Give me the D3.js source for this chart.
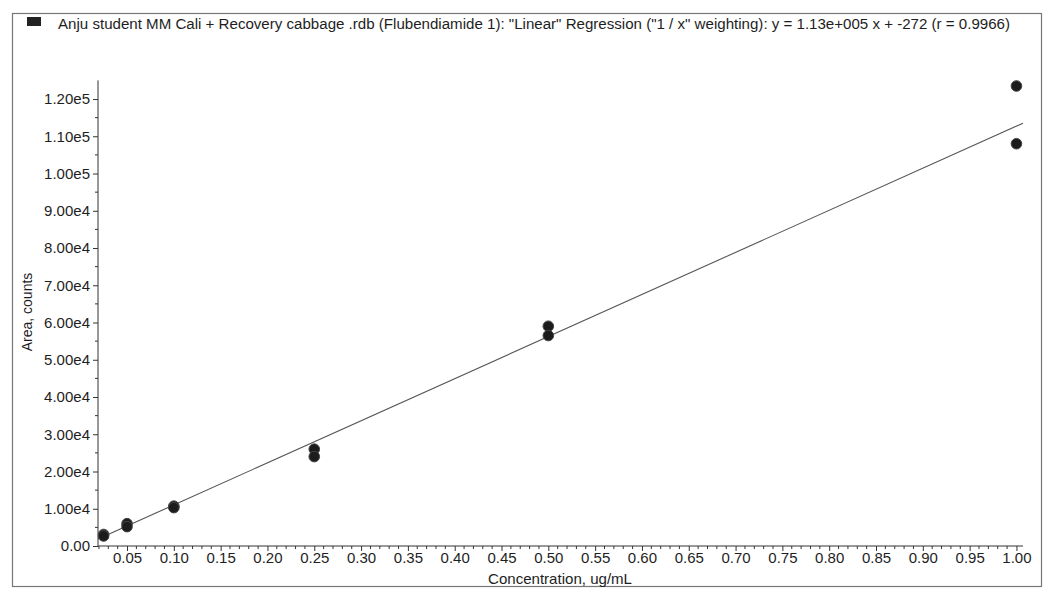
<!DOCTYPE html>
<html>
<head>
<meta charset="utf-8">
<script src="https://cdn.jsdelivr.net/npm/d3@7"></script>
<style>
  body { margin: 0; background: #fff; }
  text { font-family: "Liberation Sans", Arial, sans-serif; fill: #1e1e1e; }
</style>
</head>
<body>
<svg id="chart" width="1043" height="591"></svg>
<script>
// calibration standards (two injections per level)
const concentrations = [0.025, 0.025, 0.05, 0.05, 0.10, 0.10, 0.25, 0.25, 0.50, 0.50, 1.00, 1.00];
const areas = [3100, 2700, 6000, 5200, 10700, 10300, 26000, 24000, 59000, 56500, 123500, 108000];

// regression from the title: y = 1.13e+005 x + -272
const slope = 113000;
const intercept = -272;

const xTicks = [0.05, 0.10, 0.15, 0.20, 0.25, 0.30, 0.35, 0.40, 0.45, 0.50, 0.55, 0.60, 0.65, 0.70, 0.75, 0.80, 0.85, 0.90, 0.95, 1.00];
const yTicks = [0, 10000, 20000, 30000, 40000, 50000, 60000, 70000, 80000, 90000, 100000, 110000, 120000];

const titleText = 'Anju student MM Cali + Recovery cabbage .rdb (Flubendiamide 1): "Linear" Regression ("1 / x" weighting): y = 1.13e+005 x + -272 (r = 0.9966)';

const svg = d3.select("#chart");

const x = d3.scaleLinear().domain([0.019, 1.007]).range([98, 1023]);
const y = d3.scaleLinear().domain([0, 125000]).range([546, 80.4]);

// outer frame
svg.append("rect")
    .attr("x", 12.5).attr("y", 13.5)
    .attr("width", 1029).attr("height", 573)
    .attr("fill", "none")
    .attr("stroke", "#777")
    .attr("stroke-width", 1.2);

// legend swatch + title
svg.append("rect")
    .attr("x", 27).attr("y", 17)
    .attr("width", 14).attr("height", 9)
    .attr("fill", "#222");

svg.append("text")
    .attr("x", 58).attr("y", 29)
    .attr("font-size", 14)
    .attr("textLength", 952)
    .attr("lengthAdjust", "spacingAndGlyphs")
    .text(titleText);

// x axis
const xMinor = d3.range(2, 101).map(d => d / 100).filter(d => d >= 0.019 && Math.round(d * 100) % 5 !== 0);

const xAxis = svg.append("g").attr("transform", "translate(0,546)");
xAxis.append("line")
    .attr("x1", x.range()[0]).attr("x2", x.range()[1])
    .attr("stroke", "#333");
xAxis.selectAll(".minor")
    .data(xMinor)
    .join("line")
    .attr("x1", d => x(d)).attr("x2", d => x(d))
    .attr("y1", 0).attr("y2", 3)
    .attr("stroke", "#333");
xAxis.call(d3.axisBottom(x).tickValues(xTicks).tickFormat(d => d.toFixed(2)).tickSize(5).tickSizeOuter(0))
    .call(g => g.select(".domain").remove())
    .call(g => g.selectAll(".tick line").attr("stroke", "#333"))
    .call(g => g.selectAll(".tick text")
        .attr("font-family", '"Liberation Sans", Arial, sans-serif')
        .attr("font-size", 15)
        .attr("fill", "#1e1e1e")
        .attr("y", 5)
        .attr("dy", "0.8em"));

// y axis
const yMinor = d3.range(5000, 125000, 10000);

const yAxis = svg.append("g").attr("transform", "translate(98,0)");
yAxis.append("line")
    .attr("y1", y.range()[0]).attr("y2", y.range()[1])
    .attr("stroke", "#333");
yAxis.selectAll(".minor")
    .data(yMinor)
    .join("line")
    .attr("y1", d => y(d)).attr("y2", d => y(d))
    .attr("x1", 0).attr("x2", -3)
    .attr("stroke", "#333");
yAxis.call(d3.axisLeft(y).tickValues(yTicks)
        .tickFormat(d => d === 0 ? "0.00" : d.toExponential(2).replace("e+", "e"))
        .tickSize(5).tickSizeOuter(0))
    .call(g => g.select(".domain").remove())
    .call(g => g.selectAll(".tick line").attr("stroke", "#333"))
    .call(g => g.selectAll(".tick text")
        .attr("font-family", '"Liberation Sans", Arial, sans-serif')
        .attr("font-size", 15)
        .attr("fill", "#1e1e1e")
        .attr("x", -8));

// axis titles
svg.append("text")
    .attr("x", 560).attr("y", 583.5)
    .attr("text-anchor", "middle")
    .attr("font-size", 14.5)
    .attr("textLength", 144)
    .attr("lengthAdjust", "spacingAndGlyphs")
    .text("Concentration, ug/mL");

svg.append("text")
    .attr("transform", "translate(32,312) rotate(-90)")
    .attr("text-anchor", "middle")
    .attr("font-size", 14)
    .text("Area, counts");

// regression line
const xd = x.domain();
svg.append("line")
    .attr("x1", x(xd[0])).attr("y1", y(slope * xd[0] + intercept))
    .attr("x2", x(xd[1])).attr("y2", y(slope * xd[1] + intercept))
    .attr("stroke", "#555")
    .attr("stroke-width", 1.1);

// data points
const points = concentrations.map((c, i) => ({ c: c, a: areas[i] }));
svg.append("g")
    .selectAll("circle")
    .data(points)
    .join("circle")
    .attr("cx", d => x(d.c))
    .attr("cy", d => y(d.a))
    .attr("r", 5.3)
    .attr("fill", "#1c1c1c")
    .attr("stroke", "#444")
    .attr("stroke-width", 1);
</script>
</body>
</html>
